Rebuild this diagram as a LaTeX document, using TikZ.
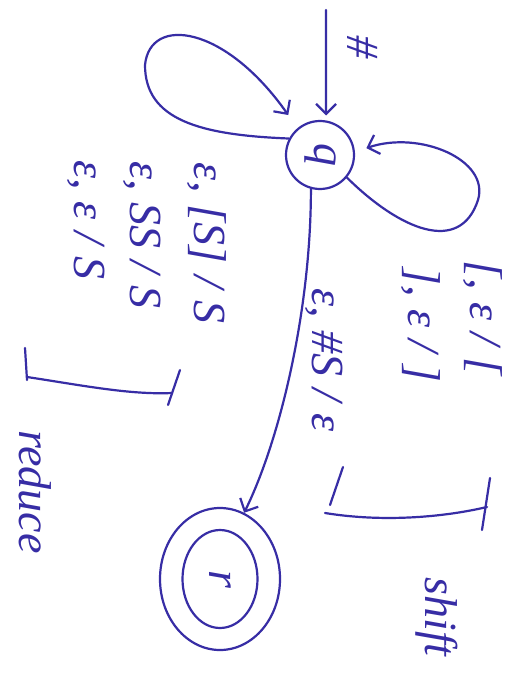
\documentclass[tikz,border=0pt]{standalone}
\usepackage{fontspec}
\setmainfont{Liberation Serif}
\usetikzlibrary{arrows.meta,shapes.geometric}
\definecolor{ink}{RGB}{55,45,165}
\newcommand\hg{\hspace{12pt}}
\begin{document}
\begin{tikzpicture}[x=1pt,y=-1pt,
  pen/.style={draw=ink, line width=2.2pt, line cap=round, line join=round},
  tip/.style={-{Straight Barb[length=10pt,width=20pt]}},
  lbl/.style={text=ink, font=\fontsize{46}{50}\selectfont\itshape, inner sep=0pt},
  word/.style={text=ink, font=\fontsize{46}{52}\selectfont\itshape, inner sep=0pt, rotate=-90},
  state/.style={circle, pen, minimum size=68pt, inner sep=0pt, text=ink, font=\fontsize{46}{50}\selectfont\itshape},
]
\useasboundingbox (0,0) rectangle (525,698);
\fill[white] (0,0) rectangle (525,698);

% states
\node[state] (q) at (320,155) {\rotatebox{-90}{q}};
\node[state, ellipse, minimum width=120pt, minimum height=142pt] (r) at (220,579) {\rotatebox{-90}{r}};
\draw[pen] (r.center) ellipse [x radius=37.5pt, y radius=49pt];

% start arrow
\coordinate (start) at (326,10);
\draw[pen, tip, shorten >=5pt] (start) -- (q.80);
\node[lbl, rotate=-90] (H) at (363,47) {\#};

% self loops
\draw[pen, tip, shorten >=16pt] (q.152) .. controls (200,135) and (145,120) .. (145,65)
      .. controls (150,15) and (225,25) .. (q.130);
\draw[pen, tip, shorten >=12pt] (q.-40) .. controls (400,230) and (460,255) .. (478,200)
      .. controls (490,160) and (420,130) .. (q.5);

% main edge
\draw[pen, tip] (q.255) .. controls (311,310) and (280,440) .. (r.70);
\node[lbl, rotate=-90] (E) at (324,360) {ε,\hg\#S\hg/\hg ε};

% reduce labels
\node[lbl, rotate=-90] (R1) at (207,243) {ε,\hg[S]\hg/\hg S};
\node[lbl, rotate=-90] (R2) at (142,235) {ε,\hg SS\hg/\hg S};
\node[lbl, rotate=-90] (R3) at (86,220) {ε,\hg ε\hg/\hg S};

% shift labels
\node[lbl, rotate=-90] (S1) at (483,318) {[,\hg ε\hg/\hg [};
\node[lbl, rotate=-90] (S2) at (421,325) {],\hg ε\hg/\hg ]};

% brackets
\draw[pen] (25,348) -- (27,380);
\draw[pen] (27,377) .. controls (80,385) and (130,395) .. (172,393);
\draw[pen] (180,370) -- (168,405);
\node[word] (RW) at (35,492) {reduce};

\draw[pen] (343,467) -- (330,505);
\draw[pen] (325,513) .. controls (380,522) and (440,518) .. (487,507);
\draw[pen] (490,478) -- (482,530);
\node[word] (SW) at (437,617) {shift};
\end{tikzpicture}
\end{document}
